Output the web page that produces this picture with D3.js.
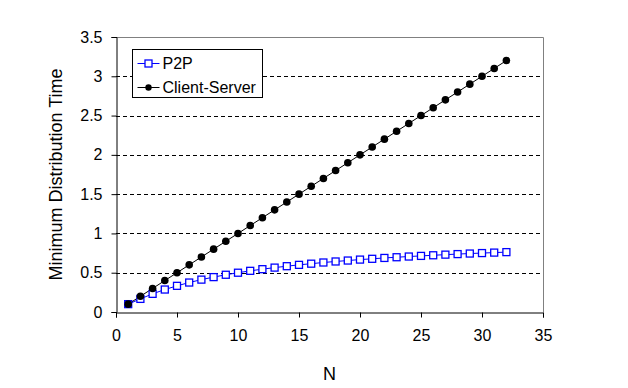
<!DOCTYPE html>
<html>
<head>
<meta charset="utf-8">
<script src="https://cdn.jsdelivr.net/npm/d3@7"></script>
<style>
body{margin:0;background:#fff;}
svg text{font-family:"Liberation Sans",Arial,sans-serif;fill:#000;}
</style>
</head>
<body>
<svg id="chart" width="628" height="388"></svg>
<script>
// N values and the two series
var nValues=[1,2,3,4,5,6,7,8,9,10,11,12,13,14,15,16,17,18,19,20,21,22,23,24,25,26,27,28,29,30,31,32];
var p2pTimes=[0.1,0.167,0.231,0.286,0.333,0.375,0.412,0.444,0.474,0.5,0.524,0.545,0.565,0.583,0.6,0.615,
    0.63,0.643,0.655,0.667,0.677,0.688,0.697,0.706,0.714,0.722,0.73,0.737,0.744,0.75,0.756,0.762];
var csTimes=[0.1,0.2,0.3,0.4,0.5,0.6,0.7,0.8,0.9,1.0,1.1,1.2,1.3,1.4,1.5,1.6,
    1.7,1.8,1.9,2.0,2.1,2.2,2.3,2.4,2.5,2.6,2.7,2.8,2.9,3.0,3.1,3.2];
var xTicks=[0,5,10,15,20,25,30,35];
var yTicks=[0,0.5,1,1.5,2,2.5,3,3.5];
var seriesNames=["P2P","Client-Server"];

const margin={top:37,left:116,right:85,bottom:76};
var width=628,height=388;

var svg=d3.select("#chart");

var x=d3.scaleLinear().domain([0,35]).range([margin.left,width-margin.right]);
var y=d3.scaleLinear().domain([0,3.5]).range([height-margin.bottom,margin.top]);

// dashed gridlines
svg.append("g")
    .selectAll("line")
    .data(yTicks.filter(d=>d>0&&d<3.5))
    .join("line")
    .attr("x1",x(0)).attr("x2",x(35))
    .attr("y1",d=>Math.round(y(d))+0.5).attr("y2",d=>Math.round(y(d))+0.5)
    .attr("stroke","#000")
    .attr("stroke-dasharray","4,3");

// gray frame top and right
svg.append("path")
    .attr("d",`M${x(0)},${y(3.5)+0.5}H${x(35)+0.5}V${y(0)}`)
    .attr("fill","none")
    .attr("stroke","#808080");

var xAxis=svg.append("g")
    .attr("transform",`translate(0,${y(0)+0.5})`)
    .call(d3.axisBottom(x).tickValues(xTicks).tickSize(5).tickPadding(12));
var yAxis=svg.append("g")
    .attr("transform",`translate(${x(0)+0.5},0)`)
    .call(d3.axisLeft(y).tickValues(yTicks).tickSize(5).tickPadding(9).tickFormat(d3.format("")));
[xAxis,yAxis].forEach(function(a){
    a.select(".domain").attr("stroke","#000");
    a.selectAll(".tick line").attr("stroke","#000");
    a.selectAll("text").style("font-size","16px").attr("fill","#000");
});

// lines
var line=d3.line().x(d=>x(d[0])).y(d=>y(d[1]));
var p2pData=nValues.map((n,i)=>[n,p2pTimes[i]]);
var csData=nValues.map((n,i)=>[n,csTimes[i]]);

svg.append("path").datum(p2pData).attr("d",line)
    .attr("fill","none").attr("stroke","#0000ff").attr("stroke-width",1);
svg.append("path").datum(csData).attr("d",line)
    .attr("fill","none").attr("stroke","#000").attr("stroke-width",1);

svg.append("g").selectAll("rect")
    .data(p2pData).join("rect")
    .attr("x",d=>x(d[0])-3.5).attr("y",d=>y(d[1])-3.5)
    .attr("width",7).attr("height",7)
    .attr("fill","#fff").attr("stroke","#0000ff").attr("stroke-width",1.3);
svg.append("g").selectAll("circle")
    .data(csData).join("circle")
    .attr("cx",d=>x(d[0])).attr("cy",d=>y(d[1]))
    .attr("r",3.8).attr("fill","#000");

// axis titles
svg.append("text")
    .attr("x",(x(0)+x(35))/2).attr("y",380)
    .attr("text-anchor","middle")
    .style("font-size","18px")
    .text("N");
svg.append("text")
    .attr("transform",`translate(62,${(y(0)+y(3.5))/2}) rotate(-90)`)
    .attr("text-anchor","middle")
    .style("font-size","18px")
    .text("Minimum Distribution Time");

// legend
var legend=svg.append("g").attr("transform","translate(132.5,49.5)");
legend.append("rect")
    .attr("width",130).attr("height",48)
    .attr("fill","#fff").attr("stroke","#000");
var entries=legend.selectAll("g.entry")
    .data(seriesNames).join("g")
    .attr("class","entry")
    .attr("transform",(d,i)=>`translate(0,${14+i*24})`);
entries.append("line")
    .attr("x1",5).attr("x2",27)
    .attr("stroke",(d,i)=>i==0?"#0000ff":"#000");
entries.each(function(d,i){
    var g=d3.select(this);
    if(i==0){
        g.append("rect").attr("x",12.5).attr("y",-3.5).attr("width",7).attr("height",7)
            .attr("fill","#fff").attr("stroke","#0000ff").attr("stroke-width",1.3);
    }else{
        g.append("circle").attr("cx",16).attr("r",3.2).attr("fill","#000");
    }
});
entries.append("text")
    .attr("x",30).attr("dy","0.35em")
    .style("font-size","16px")
    .text(d=>d);
</script>
</body>
</html>
